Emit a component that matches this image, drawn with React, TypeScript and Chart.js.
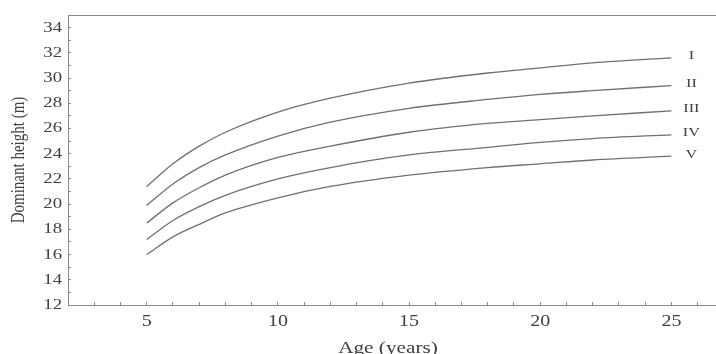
import React, { useEffect, useRef } from "react";
import { Chart, registerables } from "chart.js";

Chart.register(...registerables);

const ages = [5, 6, 7, 8, 10, 12, 15, 18, 20, 22, 25];
const siteI = [21.4, 23.2, 24.6, 25.7, 27.3, 28.4, 29.6, 30.4, 30.8, 31.2, 31.6];
const siteII = [19.9, 21.6, 22.9, 23.9, 25.4, 26.5, 27.6, 28.3, 28.7, 29.0, 29.4];
const siteIII = [18.5, 20.1, 21.3, 22.3, 23.7, 24.6, 25.7, 26.4, 26.7, 27.0, 27.4];
const siteIV = [17.2, 18.7, 19.8, 20.7, 22.0, 22.9, 23.9, 24.5, 24.9, 25.2, 25.5];
const siteV = [16.0, 17.4, 18.4, 19.3, 20.5, 21.4, 22.3, 22.9, 23.2, 23.5, 23.8];
const seriesLabels = ["I", "II", "III", "IV", "V"];
const xTickLabels = [5, 10, 15, 20, 25];
const yTickLabels = [12, 14, 16, 18, 20, 22, 24, 26, 28, 30, 32, 34];
const xTitle = "Age (years)";
const yTitle = "Dominant height (m)";

const X_MIN = 2;
const X_MAX = 26.7;
const Y_MIN = 12;
const Y_MAX = 35;

const FONT = "'Liberation Serif', 'DejaVu Serif', serif";
const LINE_COLOR = "#707070";
const AXIS_COLOR = "#8a8a8a";
const TEXT_COLOR = "#404040";
const STRETCH = 1.25; // the figure's lettering is horizontally widened

function stretchedText(
  ctx: CanvasRenderingContext2D,
  text: string,
  x: number,
  y: number,
  size: number,
  align: CanvasTextAlign,
  rotate = false
) {
  ctx.save();
  ctx.translate(x, y);
  ctx.scale(STRETCH, 1);
  if (rotate) ctx.rotate(-Math.PI / 2);
  ctx.font = `${size}px ${FONT}`;
  ctx.fillStyle = TEXT_COLOR;
  ctx.textAlign = align;
  ctx.textBaseline = "middle";
  ctx.fillText(text, 0, 0);
  ctx.restore();
}

const textPlugin = {
  id: "figureText",
  afterDraw(chart: any) {
    const { ctx, chartArea, scales } = chart;
    // top frame line
    ctx.save();
    ctx.strokeStyle = AXIS_COLOR;
    ctx.lineWidth = 1;
    ctx.beginPath();
    ctx.moveTo(chartArea.left, chartArea.top + 0.5);
    ctx.lineTo(chartArea.right, chartArea.top + 0.5);
    ctx.stroke();
    ctx.restore();

    // tick labels
    xTickLabels.forEach((v) => {
      stretchedText(ctx, String(v), scales.x.getPixelForValue(v), chartArea.bottom + 17, 16, "center");
    });
    yTickLabels.forEach((v) => {
      stretchedText(ctx, String(v), chartArea.left - 6, scales.y.getPixelForValue(v), 15, "right");
    });

    // axis titles
    stretchedText(ctx, xTitle, (chartArea.left + chartArea.right) / 2 - 4, chartArea.bottom + 44, 17, "center");
    stretchedText(ctx, yTitle, 19, (chartArea.top + chartArea.bottom) / 2, 15, "center", true);

    // curve labels
    chart.data.datasets.forEach((ds: any, i: number) => {
      const meta = chart.getDatasetMeta(i);
      const pt = meta.data[meta.data.length - 1];
      if (pt) stretchedText(ctx, ds.label, pt.x + 20, pt.y - 2, 13, "center");
    });
  },
};

export default function App() {
  const canvasRef = useRef<HTMLCanvasElement | null>(null);

  useEffect(() => {
    if (!canvasRef.current) return;
    const series = [siteI, siteII, siteIII, siteIV, siteV];
    const chart = new Chart(canvasRef.current, {
      type: "line",
      data: {
        datasets: series.map((vals, i) => ({
          label: seriesLabels[i],
          data: ages.map((a, j) => ({ x: a, y: vals[j] })),
          borderColor: LINE_COLOR,
          borderWidth: 1.3,
          pointRadius: 0,
          fill: false,
          cubicInterpolationMode: "monotone" as const,
        })),
      },
      options: {
        animation: false,
        responsive: false,
        maintainAspectRatio: false,
        layout: { padding: { top: 15, right: 0, bottom: 0, left: 0 } },
        plugins: {
          legend: { display: false },
          tooltip: { enabled: false },
        },
        scales: {
          x: {
            type: "linear",
            min: X_MIN,
            max: X_MAX,
            afterBuildTicks: (scale: any) => {
              const t: any[] = [];
              for (let v = Math.ceil(X_MIN); v <= Math.floor(X_MAX); v++) t.push({ value: v });
              scale.ticks = t;
            },
            afterFit: (scale: any) => {
              scale.height = 49;
            },
            grid: {
              display: true,
              drawOnChartArea: false,
              drawTicks: true,
              tickLength: -3,
              color: AXIS_COLOR,
            },
            border: { display: true, color: AXIS_COLOR, width: 1 },
            ticks: { display: false },
            title: { display: false },
          },
          y: {
            type: "linear",
            min: Y_MIN,
            max: Y_MAX,
            afterBuildTicks: (scale: any) => {
              const t: any[] = [];
              for (let v = Y_MIN; v <= 34; v++) t.push({ value: v });
              scale.ticks = t;
            },
            afterFit: (scale: any) => {
              scale.width = 68;
            },
            grid: {
              display: true,
              drawOnChartArea: false,
              drawTicks: true,
              tickLength: -3,
              color: AXIS_COLOR,
            },
            border: { display: true, color: AXIS_COLOR, width: 1 },
            ticks: { display: false },
            title: { display: false },
          },
        },
      },
      plugins: [textPlugin],
    });
    return () => chart.destroy();
  }, []);

  return (
    <div style={{ position: "fixed", left: 0, top: 0, width: 716, height: 354, background: "#fff" }}>
      <canvas ref={canvasRef} width={716} height={354} style={{ width: 716, height: 354 }} />
    </div>
  );
}
